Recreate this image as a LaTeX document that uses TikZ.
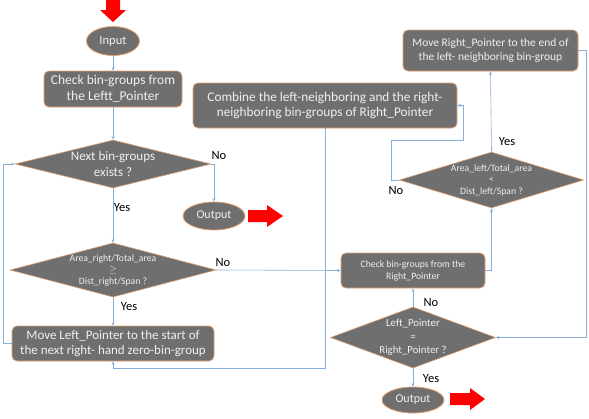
\documentclass[tikz,border=0pt]{standalone}
\usepackage{fontspec}
\setmainfont{Carlito}
\usetikzlibrary{shapes.geometric,arrows.meta}
\definecolor{boxfill}{HTML}{6F6F6F}
\definecolor{boxedge}{HTML}{E2A272}
\definecolor{conn}{HTML}{86AEDB}
\definecolor{txt}{HTML}{F0F0F0}
\definecolor{redarrow}{HTML}{FF0000}
\tikzset{
  procbox/.style={rectangle, rounded corners=5pt, fill=boxfill, draw=boxedge, line width=0.8pt, text=txt, align=center, inner sep=0pt},
  termbox/.style={ellipse, fill=boxfill, draw=boxedge, line width=0.8pt, text=txt, inner sep=0pt},
  decbox/.style={diamond, fill=boxfill, draw=boxedge, line width=0.6pt, text=txt, align=center, inner sep=0pt},
  conline/.style={draw=conn, line width=0.6pt},
  conarrow/.style={conline, -{Stealth[length=3.5pt,width=3pt]}},
  lbl/.style={text=black, font=\fontsize{12.5}{14}\selectfont, inner sep=0pt},
}
\begin{document}
\begin{tikzpicture}[x=1pt,y=-1pt]
\useasboundingbox (0,0) rectangle (589,418);
\fill[white] (0,0) rectangle (589,418);
% red arrows
\fill[redarrow] (106,0) -- (120,0) -- (120,10) -- (126,10) -- (113,22) -- (100,10) -- (106,10) -- cycle;
\fill[redarrow] (248,210) -- (267,210) -- (267,205) -- (283,216) -- (267,227) -- (267,222) -- (248,222) -- cycle;
\fill[redarrow] (450,393) -- (470,393) -- (470,388) -- (485,399) -- (470,410) -- (470,405) -- (450,405) -- cycle;

% nodes
\node[termbox, minimum width=53pt, minimum height=29pt, font=\fontsize{12.5}{14}\selectfont] (input) at (113,41) {Input};
\node[procbox, minimum width=138pt, minimum height=36pt, font=\fontsize{13.5}{16}\selectfont] (checkL) at (113,89) {Check bin-groups from\\the Leftt\_Pointer};
\node[decbox, minimum width=196pt, minimum height=48pt, aspect=4, font=\fontsize{13}{15.5}\selectfont] (next) at (113,164) {Next bin-groups\\exists ?};
\node[termbox, minimum width=62pt, minimum height=28pt, font=\fontsize{12}{14}\selectfont] (out1) at (214,216) {Output};
\node[decbox, minimum width=205pt, minimum height=54pt, aspect=3.8, font=\fontsize{9.7}{11.5}\selectfont] (dright) at (113,270) {Area\_right/Total\_area\\$\geq$\\Dist\_right/Span ?};
\node[procbox, minimum width=202pt, minimum height=35pt, font=\fontsize{13}{15.5}\selectfont] (moveL) at (113,343.5) {Move Left\_Pointer to the start of\\the next right- hand zero-bin-group};
\node[procbox, minimum width=264pt, minimum height=45pt, font=\fontsize{13.3}{15.5}\selectfont] (combine) at (325,105.5) {Combine the left-neighboring and the right-\\neighboring bin-groups of Right\_Pointer};
\node[procbox, minimum width=175pt, minimum height=41pt, font=\fontsize{11.5}{14}\selectfont] (moveR) at (490.5,50.5) {Move Right\_Pointer to the end of\\the left- neighboring bin-group};
\node[decbox, minimum width=183pt, minimum height=56pt, aspect=3.3, font=\fontsize{9.7}{11.5}\selectfont] (dleft) at (491.5,180) {Area\_left/Total\_area\\<\\Dist\_left/Span ?};
\node[procbox, minimum width=144pt, minimum height=35pt, font=\fontsize{9.7}{12}\selectfont] (checkR) at (413,270.5) {Check bin-groups from the\\Right\_Pointer};
\node[decbox, minimum width=161pt, minimum height=59pt, aspect=2.7, font=\fontsize{10.8}{13.5}\selectfont] (equal) at (413,337.5) {Left\_Pointer\\=\\Right\_Pointer ?};
\node[termbox, minimum width=62pt, minimum height=26pt, font=\fontsize{12}{14}\selectfont] (out2) at (413,400) {Output};

% labels
\node[lbl] (l1) at (219,156) {No};
\node[lbl] (l2) at (122,208) {Yes};
\node[lbl] (l3) at (223,263) {No};
\node[lbl] (l4) at (129,307) {Yes};
\node[lbl] (l5) at (507,142) {Yes};
\node[lbl] (l6) at (396,191) {No};
\node[lbl] (l7) at (431,303) {No};
\node[lbl] (l8) at (431,379) {Yes};

% connectors
\draw[conarrow] (input.south) -- (checkL.north);
\draw[conarrow] (checkL.south) -- (next.north);
\draw[conarrow] (next.east) -| (out1.north);
\draw[conarrow] (next.south) -- (dright.north);
\draw[conarrow] (dright.east) -- (checkR.west);
\draw[conarrow] (dright.south) -- (moveL.north);
\draw[conarrow] (moveL.west) -- ++(-8,0) |- (next.west);
\draw[conarrow] (combine.south) -- ++(0,240) -| (moveL.south);
\draw[conarrow] (dleft.north) -- (moveR.south);
\draw[conarrow] (dleft.west) -- ++(-8,0) |- ++(72,-40) |- (combine.east);
\draw[conarrow] (moveR.east) -- ++(8,0) |- (equal.east);
\draw[conarrow] (checkR.east) -| (dleft.south);
\draw[conarrow] (equal.north) -- (checkR.south);
\draw[conarrow] (equal.south) -- (out2.north);
\end{tikzpicture}
\end{document}
